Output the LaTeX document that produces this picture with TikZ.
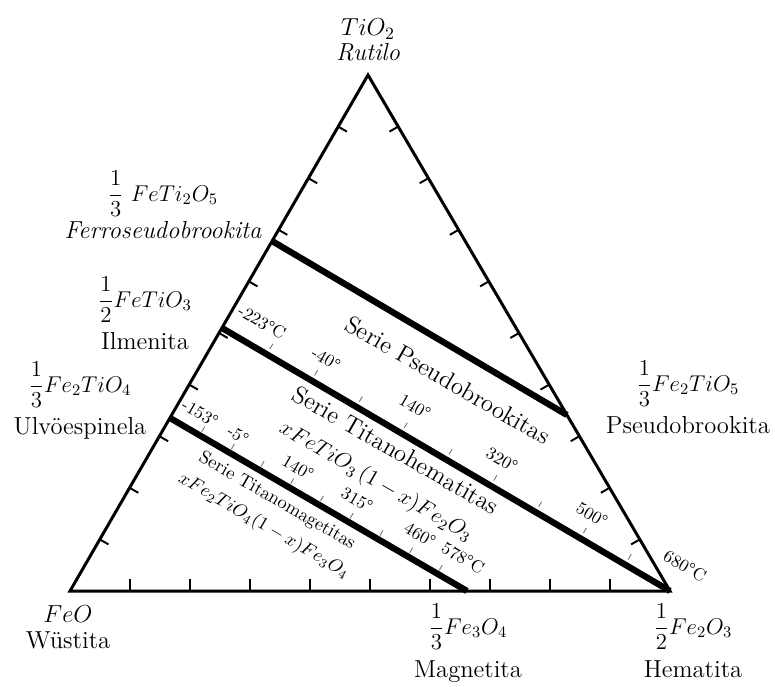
\RequirePackage{fix-cm}
\documentclass[tikz,border=0pt]{standalone}
\usepackage{amsmath}
\usetikzlibrary{positioning,calc}

\begin{document}
\begin{tikzpicture}[x=0.02cm, y=-0.02cm,
    side/.style={line width=1.7pt, line join=miter},
    serie/.style={line width=3.6pt},
    tick/.style={line width=1.1pt},
    minor/.style={line width=0.5pt, black!55},
    formula/.style={inner sep=1pt, font=\fontsize{13}{15}\selectfont},
    mineral/.style={inner sep=1pt, font=\fontsize{14}{16}\selectfont},
    temp/.style={inner sep=0pt, rotate=-30, font=\fontsize{10}{12}\selectfont},
    titulo/.style={inner sep=0pt, rotate=-30, font=\fontsize{14}{16}\selectfont},
    chico/.style={inner sep=0pt, rotate=-30, font=\fontsize{10.5}{12}\selectfont}
]
\useasboundingbox (0,0) rectangle (775,687);

% vertices del triangulo
\coordinate (wus) at (70,591);
\coordinate (rut) at (368,75);
\coordinate (hem) at (670,591);

% extremos de las series
\coordinate (fps) at (272,241);
\coordinate (pbk) at (567,415);
\coordinate (ilm) at (222,328);
\coordinate (ulv) at (170,418);
\coordinate (mag) at (467,591);

\draw[side] (wus) -- (rut) -- (hem) -- cycle;

\foreach \i in {1,...,9} {
    \draw[tick] ($(wus)!\i/10!(hem)$) -- ++(0,-12);
    \draw[tick] ($(wus)!\i/10!(rut)$) -- ++(8.7,5);
    \draw[tick] ($(hem)!\i/10!(rut)$) -- ++(-8.7,5);
    \draw[minor] ($(ilm)!\i/10!(hem)$) ++(3,-5.2) -- ++(3,-5.2);
    \draw[minor] ($(ulv)!\i/10!(mag)$) ++(2,-3.5) -- ++(3,-5.2);
}

\draw[serie] (fps) -- (pbk);
\draw[serie] (ilm) -- (hem);
\draw[serie] (ulv) -- (mag);

% vertices: formulas y minerales
\node[formula, font=\fontsize{14}{16}\selectfont] (tio2) at (368,29) {$TiO_2$};
\node[mineral, below=0pt of tio2] (rutilo) {\itshape Rutilo};

\node[formula, font=\fontsize{14}{16}\selectfont] (feo) at (68,614) {$FeO$};
\node[mineral, below=3pt of feo] (wustita) {Wüstita};

\node[formula] (fe3o4) at (468,627) {$\dfrac{1}{3}Fe_3O_4$};
\node[mineral, below=4pt of fe3o4] (magnetita) {Magnetita};

\node[formula] (fe2o3) at (693,627) {$\dfrac{1}{2}Fe_2O_3$};
\node[mineral, below=4pt of fe2o3] (hematita) {Hematita};

% lado izquierdo
\node[formula] (feti2o5) at (163,194) {$\dfrac{1}{3}\ FeTi_2O_5$};
\node[mineral, below=0pt of feti2o5] (ferro) {\itshape Ferroseudobrookita};

\node[formula] (fetio3) at (145,300) {$\dfrac{1}{2}FeTiO_3$};
\node[mineral, below=3pt of fetio3] (ilmenita) {Ilmenita};

\node[formula] (fe2tio4) at (80,385) {$\dfrac{1}{3}Fe_2TiO_4$};
\node[mineral, below=3pt of fe2tio4] (ulvo) {Ulvöespinela};

% lado derecho
\node[formula] (fe2tio5) at (688,384) {$\dfrac{1}{3}Fe_2TiO_5$};
\node[mineral, below=3pt of fe2tio5] (pseudo) {Pseudobrookita};

% nombres de las series
\node[titulo] (spseudo) at (448,380) {Serie Pseudobrookitas};
\node[titulo] (stihem) at (396,450) {Serie Titanohematitas};
\node[titulo, font=\fontsize{12.5}{15}\selectfont] (ftihem) at (376,482) {$xFeTiO_3\,(1-x)Fe_2O_3$};
\node[chico] (stimag) at (277,501) {Serie Titanomagetitas};
\node[chico] (ftimag) at (264,526) {$xFe_2TiO_4(1-x)Fe_3O_4$};

% temperaturas
\node[temp] (t1) at (262,322) {-223\textdegree C};
\node[temp] (t2) at (326,359) {-40\textdegree};
\node[temp] (t3) at (415,407) {140\textdegree};
\node[temp] (t4) at (502,460) {320\textdegree};
\node[temp] (t5) at (592,515) {500\textdegree};
\node[temp] (t6) at (685,566) {680\textdegree C};
\node[temp] (t7) at (200,413) {-153\textdegree};
\node[temp] (t8) at (238,435) {-5\textdegree};
\node[temp] (t9) at (298,468) {140\textdegree};
\node[temp] (t10) at (357,500) {315\textdegree};
\node[temp] (t11) at (420,535) {460\textdegree};
\node[temp] (t12) at (463,558) {578\textdegree C};
\end{tikzpicture}
\end{document}
